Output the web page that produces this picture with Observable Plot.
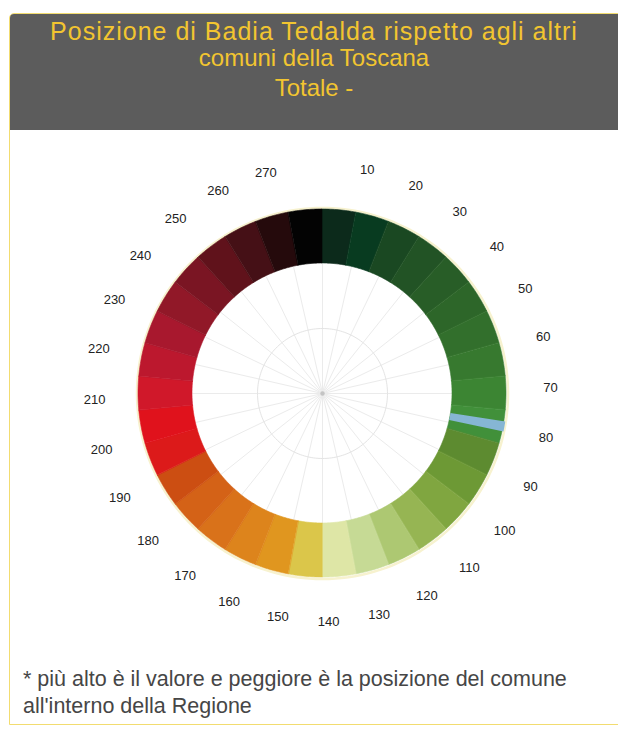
<!DOCTYPE html>
<html><head><meta charset="utf-8">
<script src="https://cdn.jsdelivr.net/npm/d3@7"></script>
<script src="https://cdn.jsdelivr.net/npm/@observablehq/plot@0.6"></script>
<style>
body{margin:0;background:#fff;font-family:"Liberation Sans",Arial,sans-serif;}
#card{position:absolute;left:9px;top:13px;width:640px;height:712px;border:1px solid #f2dc70;border-radius:5px 0 0 0;box-sizing:border-box;}
#head{position:absolute;left:10px;top:14px;width:608px;height:116px;background:#5c5c5c;border-radius:4px 0 0 0;}
.t{position:absolute;left:10px;width:608px;text-align:center;color:#f2c530;font-size:24px;line-height:28px;white-space:nowrap}
#chart{position:absolute;left:0;top:130px}
#note{position:absolute;left:23px;top:666px;font-size:21.5px;line-height:27px;color:#464646;white-space:nowrap}
</style></head>
<body>
<div id="card"></div>
<div id="head"></div>
<div class="t" style="top:17px;font-size:25px;letter-spacing:1px">Posizione di Badia Tedalda rispetto agli altri</div>
<div class="t" style="top:44px">comuni della Toscana</div>
<div class="t" style="top:74px">Totale -</div>
<div id="chart"></div>
<div id="note">* più alto è il valore e peggiore è la posizione del comune<br>all'interno della Regione</div>
<script>
// tick labels around the ring (rank positions)
const etichette = [10,20,30,40,50,60,70,80,90,100,110,120,130,140,150,160,170,180,190,200,210,220,230,240,250,260,270];
const valoreMax = 280;
// colour bands of the ring, clockwise from the top
const coloriFasce = [
  "#0c2a1b","#083b20","#1a4822","#225325","#285d27","#2d6629","#326f2c","#37792f","#3c8533","#41903a",
  "#5d8b30","#6d9935","#80a640","#96b553","#adc872","#c6da95","#dee6a6",
  "#dbc64a","#e0961f","#dd841c","#d9721a","#d46217","#cc4e12",
  "#dc1a1a","#e0121c","#d0182a","#bc182e","#a8182e","#911828","#7a1523","#60121b","#451016","#250a0c","#030303"
];
// position of the comune (rank) highlighted in blue
const posizioneComune = 78;
const coloreComune = "#86b6d4";

const R_IN = 130, R_OUT = 184, R_LAB = 228, R_GRID = 65;
const angolo = d3.scaleLinear().domain([0, valoreMax]).range([0, 2 * Math.PI]);
const angoloFascia = d3.scaleLinear().domain([0, coloriFasce.length]).range([0, 2 * Math.PI]);
const px = (r, a) => r * Math.sin(a), py = (r, a) => -r * Math.cos(a);

const anello = coloriFasce.flatMap((c, i) => d3.range(0, 17).map(k => {
  const a = angoloFascia(i + k / 16);
  return {fascia: i, colore: c, x1: px(R_IN, a), y1: py(R_IN, a), x2: px(R_OUT, a), y2: py(R_OUT, a)};
}));
const marcatore = d3.range(0, 9).map(k => {
  const a = angolo(posizioneComune - 1.1 + 2.4 * k / 8);
  return {x1: px(R_IN, a), y1: py(R_IN, a), x2: px(R_OUT + 1.5, a), y2: py(R_OUT + 1.5, a)};
});
const raggi = d3.range(0, valoreMax, 10);
const cerchio = d3.range(0, 361, 2).map(g => g / 360 * valoreMax);
const offLab = -1.2;

const chart = Plot.plot({
  width: 618, height: 510,
  marginTop: 0, marginBottom: 0, marginLeft: 0, marginRight: 0,
  x: {domain: [-322, 296], range: [0, 618], axis: null},
  y: {domain: [-263, 247], range: [0, 510], axis: null},
  color: {type: "identity"},
  style: {background: "transparent", fontFamily: "'Liberation Sans', Arial, sans-serif"},
  marks: [
    Plot.link(raggi, {x1: 0, y1: 0, x2: d => px(R_IN, angolo(d)), y2: d => py(R_IN, angolo(d)), stroke: "#ebebeb", strokeWidth: 1}),
    Plot.line(cerchio, {x: d => px(R_GRID, angolo(d)), y: d => py(R_GRID, angolo(d)), stroke: "#e4e4e4", strokeWidth: 1}),
    Plot.line(cerchio, {x: d => px(R_OUT + 1.5, angolo(d)), y: d => py(R_OUT + 1.5, angolo(d)), stroke: "#f7f2cf", strokeWidth: 2.5}),
    Plot.area(anello, {x1: "x1", y1: "y1", x2: "x2", y2: "y2", z: "fascia", fill: "colore", stroke: "colore", strokeWidth: 0.6}),
    Plot.area(marcatore, {x1: "x1", y1: "y1", x2: "x2", y2: "y2", fill: coloreComune}),
    Plot.dot([0], {x: 0, y: 0, r: 2.2, fill: "#c4c4c4"}),
    Plot.text(etichette, {x: d => px(R_LAB, angolo(d + offLab)), y: d => py(R_LAB, angolo(d + offLab)), text: d => String(d),
      fill: "#222", fontSize: 13, textAnchor: "middle", lineAnchor: "middle"})
  ]
});
document.getElementById("chart").append(chart);
</script>
</body></html>
